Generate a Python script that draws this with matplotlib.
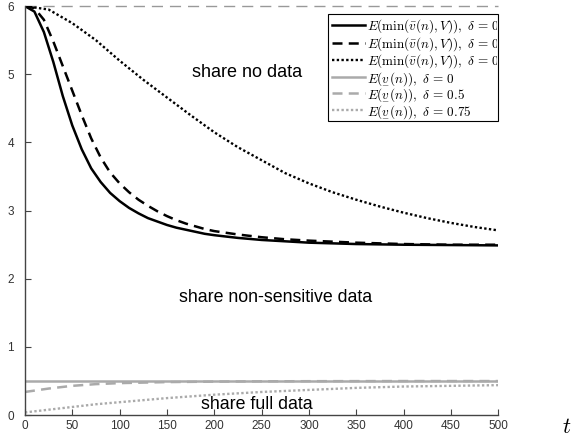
import matplotlib
matplotlib.use('Agg')
import matplotlib.pyplot as plt
from matplotlib.patches import Rectangle
from matplotlib.transforms import Bbox, TransformedBbox

plt.rcParams['font.family'] = ['Liberation Sans', 'DejaVu Sans']
plt.rcParams['mathtext.fontset'] = 'cm'

# values
t_fast = [0, 10, 20, 30, 40, 50, 60, 70, 80, 90, 100, 110, 120, 130, 140, 150, 160, 170, 180, 190, 200,
          225, 250, 275, 300, 350, 400, 450, 500]
upper_d0 = [6.0, 5.92, 5.62, 5.18, 4.68, 4.25, 3.90, 3.62, 3.42, 3.26, 3.14, 3.04, 2.96, 2.89, 2.84, 2.79, 2.75, 2.72, 2.69, 2.66, 2.64,
            2.60, 2.57, 2.55, 2.53, 2.51, 2.50, 2.495, 2.49]
upper_d05 = [6.0, 5.97, 5.80, 5.48, 5.12, 4.76, 4.40, 4.06, 3.78, 3.56, 3.40, 3.27, 3.16, 3.07, 2.99, 2.92, 2.86, 2.81, 2.77, 2.73, 2.70,
             2.65, 2.61, 2.58, 2.56, 2.53, 2.51, 2.50, 2.50]

t_slow = [0, 25, 50, 75, 100, 125, 150, 175, 200, 225, 250, 275, 300, 325, 350, 375, 400, 425, 450, 475, 500]
upper_d075 = [6.0, 5.95, 5.75, 5.50, 5.20, 4.92, 4.66, 4.40, 4.15, 3.93, 3.74, 3.55, 3.40, 3.27, 3.16, 3.06, 2.97, 2.89, 2.82, 2.76, 2.71]

t_low = [0, 25, 50, 75, 100, 150, 200, 250, 300, 350, 400, 450, 500]
lower_d0 = [0.5, 0.5, 0.5, 0.5, 0.5, 0.5, 0.5, 0.5, 0.5, 0.5, 0.5, 0.5, 0.5]
lower_d05 = [0.34, 0.39, 0.43, 0.455, 0.47, 0.485, 0.492, 0.496, 0.498, 0.499, 0.5, 0.5, 0.5]
lower_d075 = [0.04, 0.08, 0.12, 0.16, 0.19, 0.25, 0.30, 0.34, 0.37, 0.40, 0.42, 0.43, 0.44]

V = 6

fig = plt.figure(figsize=(5.8, 4.37), dpi=100)
ax = fig.add_axes([0.043, 0.05, 0.816, 0.936])

ax.plot([0, 500], [V, V], color='#999999', lw=1, ls=(0, (8, 5)), clip_on=False)

vbar = r'\bar{v}'
vlow = r'\underset{-}{v}'
upper = r'$E(\min(' + vbar + r'(n),V)),\ \delta\,=\,'
lower = r'$E(' + vlow + r'(n)),\ \delta\,=\,'
ax.plot(t_fast, upper_d0, color='black', lw=1.8, label=upper + '0$')
ax.plot(t_fast, upper_d05, color='black', lw=1.8, ls=(0, (4, 2.5)), label=upper + '0.5$')
ax.plot(t_slow, upper_d075, color='black', lw=1.7, ls=(0, (1, 1)), label=upper + '0.75$')
ax.plot(t_low, lower_d0, color='#aaaaaa', lw=1.8, label=lower + '0$')
ax.plot(t_low, lower_d05, color='#aaaaaa', lw=1.8, ls=(0, (4, 2.5)), label=lower + '0.5$')
ax.plot(t_low, lower_d075, color='#aaaaaa', lw=1.7, ls=(0, (1, 1)), label=lower + '0.75$')

ax.set_xlim(0, 500)
ax.set_ylim(0, 6)
ax.set_xticks(range(0, 501, 50))
ax.set_yticks(range(0, 7))
ax.spines['top'].set_visible(False)
ax.spines['right'].set_visible(False)
for s in ['left', 'bottom']:
    ax.spines[s].set_color('#444444')
    ax.spines[s].set_linewidth(1)
ax.tick_params(direction='in', length=4, labelsize=8.5, colors='#444444', labelcolor='#333333')
ax.tick_params(axis='y', pad=8)

ax.text(235, 5.02, 'share no data', ha='center', va='center', fontsize=13)
ax.text(265, 1.73, 'share non-sensitive data', ha='center', va='center', fontsize=12.8)
ax.text(245, 0.16, 'share full data', ha='center', va='center', fontsize=12.8)
ax.text(1.145, -0.03, r'$t$', transform=ax.transAxes, fontsize=16, ha='center', va='center')

# legend box: the long entries run past the frame and get cut, like the original
bx0, bx1 = 328 / 580, 498 / 580
by0, by1 = 1 - 121 / 437, 1 - 14 / 437
frame = Rectangle((bx0, by0), bx1 - bx0, by1 - by0, transform=fig.transFigure,
                  facecolor='white', edgecolor='black', lw=0.8, zorder=4, clip_on=False)
ax.add_patch(frame)
leg = ax.legend(loc='upper left', bbox_to_anchor=(bx0 + 4 / 580, by1 - 3 / 437), bbox_transform=fig.transFigure,
                fontsize=9.5, frameon=False, handlelength=2.5, borderpad=0, borderaxespad=0,
                labelspacing=0.0, handletextpad=0.15)
leg.set_zorder(5)
clip = TransformedBbox(Bbox([[bx0, by0], [bx1 - 1 / 580, by1]]), fig.transFigure)
for txt in leg.get_texts():
    txt.set_clip_box(clip)
    txt.set_clip_on(True)

plt.savefig('out.png', dpi=100)
